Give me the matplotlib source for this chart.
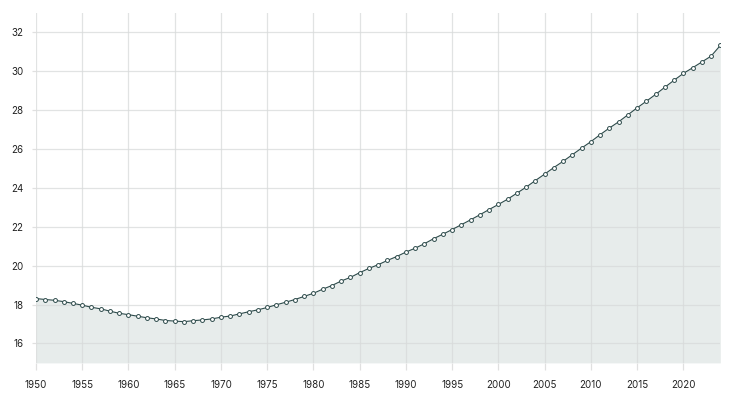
import matplotlib.pyplot as plt

plt.rcParams['font.family'] = ['Inter', 'DejaVu Sans']

years = list(range(1950, 2025))
values = [
    18.31, 18.26, 18.22, 18.15, 18.06, 17.97, 17.86, 17.78, 17.66, 17.55,
    17.48, 17.40, 17.32, 17.26, 17.18, 17.15, 17.12, 17.17, 17.21, 17.26,
    17.35, 17.41, 17.52, 17.63, 17.73, 17.85, 17.99, 18.12, 18.26, 18.42,
    18.58, 18.79, 18.98, 19.21, 19.40, 19.64, 19.86, 20.05, 20.27, 20.47,
    20.70, 20.90, 21.13, 21.39, 21.62, 21.86, 22.11, 22.36, 22.62, 22.89,
    23.15, 23.42, 23.73, 24.04, 24.38, 24.71, 25.05, 25.37, 25.71, 26.05,
    26.38, 26.74, 27.08, 27.40, 27.76, 28.12, 28.46, 28.81, 29.18, 29.54,
    29.89, 30.18, 30.48, 30.78, 31.33,
]
x_ticks = list(range(1950, 2025, 5))
y_ticks = list(range(16, 33, 2))

fig = plt.figure(figsize=(7.35, 3.94), dpi=100)
ax = fig.add_axes([0.049, 0.079, 0.931, 0.888])

ymin, ymax = 15, 33
ax.fill_between(years, values, ymin, color='#e7eceb', lw=0, zorder=1)
ax.plot(years, values, color='#2c4a4a', lw=0.8, marker='o', ms=2.8,
        mfc='white', mec='#2c4a4a', mew=0.7, zorder=3)

ax.set_xlim(1950, 2024)
ax.set_ylim(ymin, ymax)
ax.set_xticks(x_ticks)
ax.set_yticks(y_ticks)
# grid sits over the fill but under the line
ax.set_axisbelow(False)
ax.grid(True, color='#d8dada', lw=0.9, alpha=0.75)
for s in ax.spines.values():
    s.set_visible(False)
ax.tick_params(axis='x', length=5, color='#e0e0e0', width=0.9, pad=7,
               labelsize=7, labelcolor='#222222')
ax.tick_params(axis='y', length=3, color='#e0e0e0', width=0.9, pad=6,
               labelsize=7, labelcolor='#222222')

fig.savefig('out.png', dpi=100)
